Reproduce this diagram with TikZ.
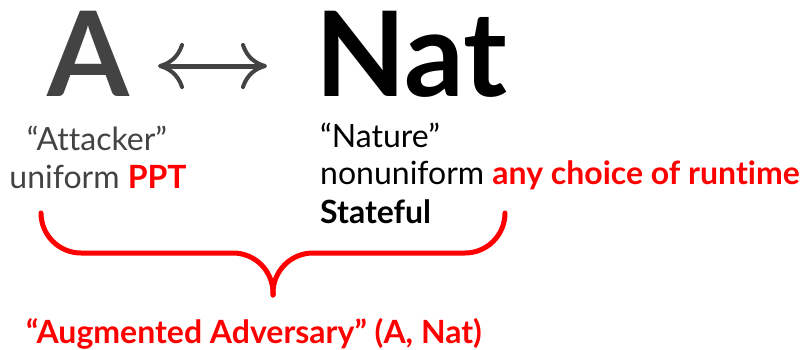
\documentclass[tikz,border=0pt]{standalone}
\usepackage{fontspec}
\setmainfont{Lato}[Ligatures={TeX,NoCommon}]
\usetikzlibrary{arrows.meta}
\definecolor{ink}{HTML}{434343}
\definecolor{hot}{HTML}{FF0000}
\tikzset{
  big/.style={inner sep=0pt, font=\fontsize{118}{118}\selectfont\bfseries},
  txt/.style={inner sep=0pt, font=\fontsize{32}{38}\selectfont},
  brace/.style={draw=hot, line width=5pt, line cap=round}
}
\begin{document}
\begin{tikzpicture}[x=1pt,y=-1pt]
\useasboundingbox (0,0) rectangle (804,349);
% the two parties
\node[big, text=ink, anchor=base west] (A) at (47,96) {A};
\node[big, text=black, anchor=base west] (Nat) at (315,96) {Nat};
\coordinate (la) at (158,66);
\coordinate (ra) at (267,66);
\draw[ink, line width=5pt,
  {Computer Modern Rightarrow[length=26pt,width=46pt,line width=4pt]}-{Computer Modern Rightarrow[length=26pt,width=46pt,line width=4pt]}]
  (la) -- (ra);
% descriptions
\node[txt, text=ink, anchor=base] (att) at (97,150.5) {“Attacker”};
\node[txt, text=ink, anchor=base] (uni) at (98,188) {uniform \textcolor{hot}{\bfseries PPT}};
\node[txt, text=black, anchor=base west] (nat) at (320,147) {“Nature”};
\node[txt, text=black, anchor=base west] (non) at (320,184) {nonuniform \textcolor{hot}{\bfseries any choice of runtime}};
\node[txt, text=black, anchor=base west] (sf) at (320,223) {\bfseries Stateful};
% brace grouping both parties
\coordinate (bl) at (41,213);
\coordinate (tip) at (273,295);
\coordinate (br) at (505,213);
\draw[brace] (bl) arc[start angle=180, end angle=90, radius=40] -- (233,253)
  arc[start angle=-90, end angle=0, radius=40] -- (tip);
\draw[brace] (br) arc[start angle=0, end angle=90, radius=40] -- (313,253)
  arc[start angle=270, end angle=180, radius=40] -- (tip);
\node[txt, text=hot, font=\fontsize{32}{38}\selectfont\bfseries, anchor=base] (aug) at (254,343) {“Augmented Adversary” (A, Nat)};
\end{tikzpicture}
\end{document}
